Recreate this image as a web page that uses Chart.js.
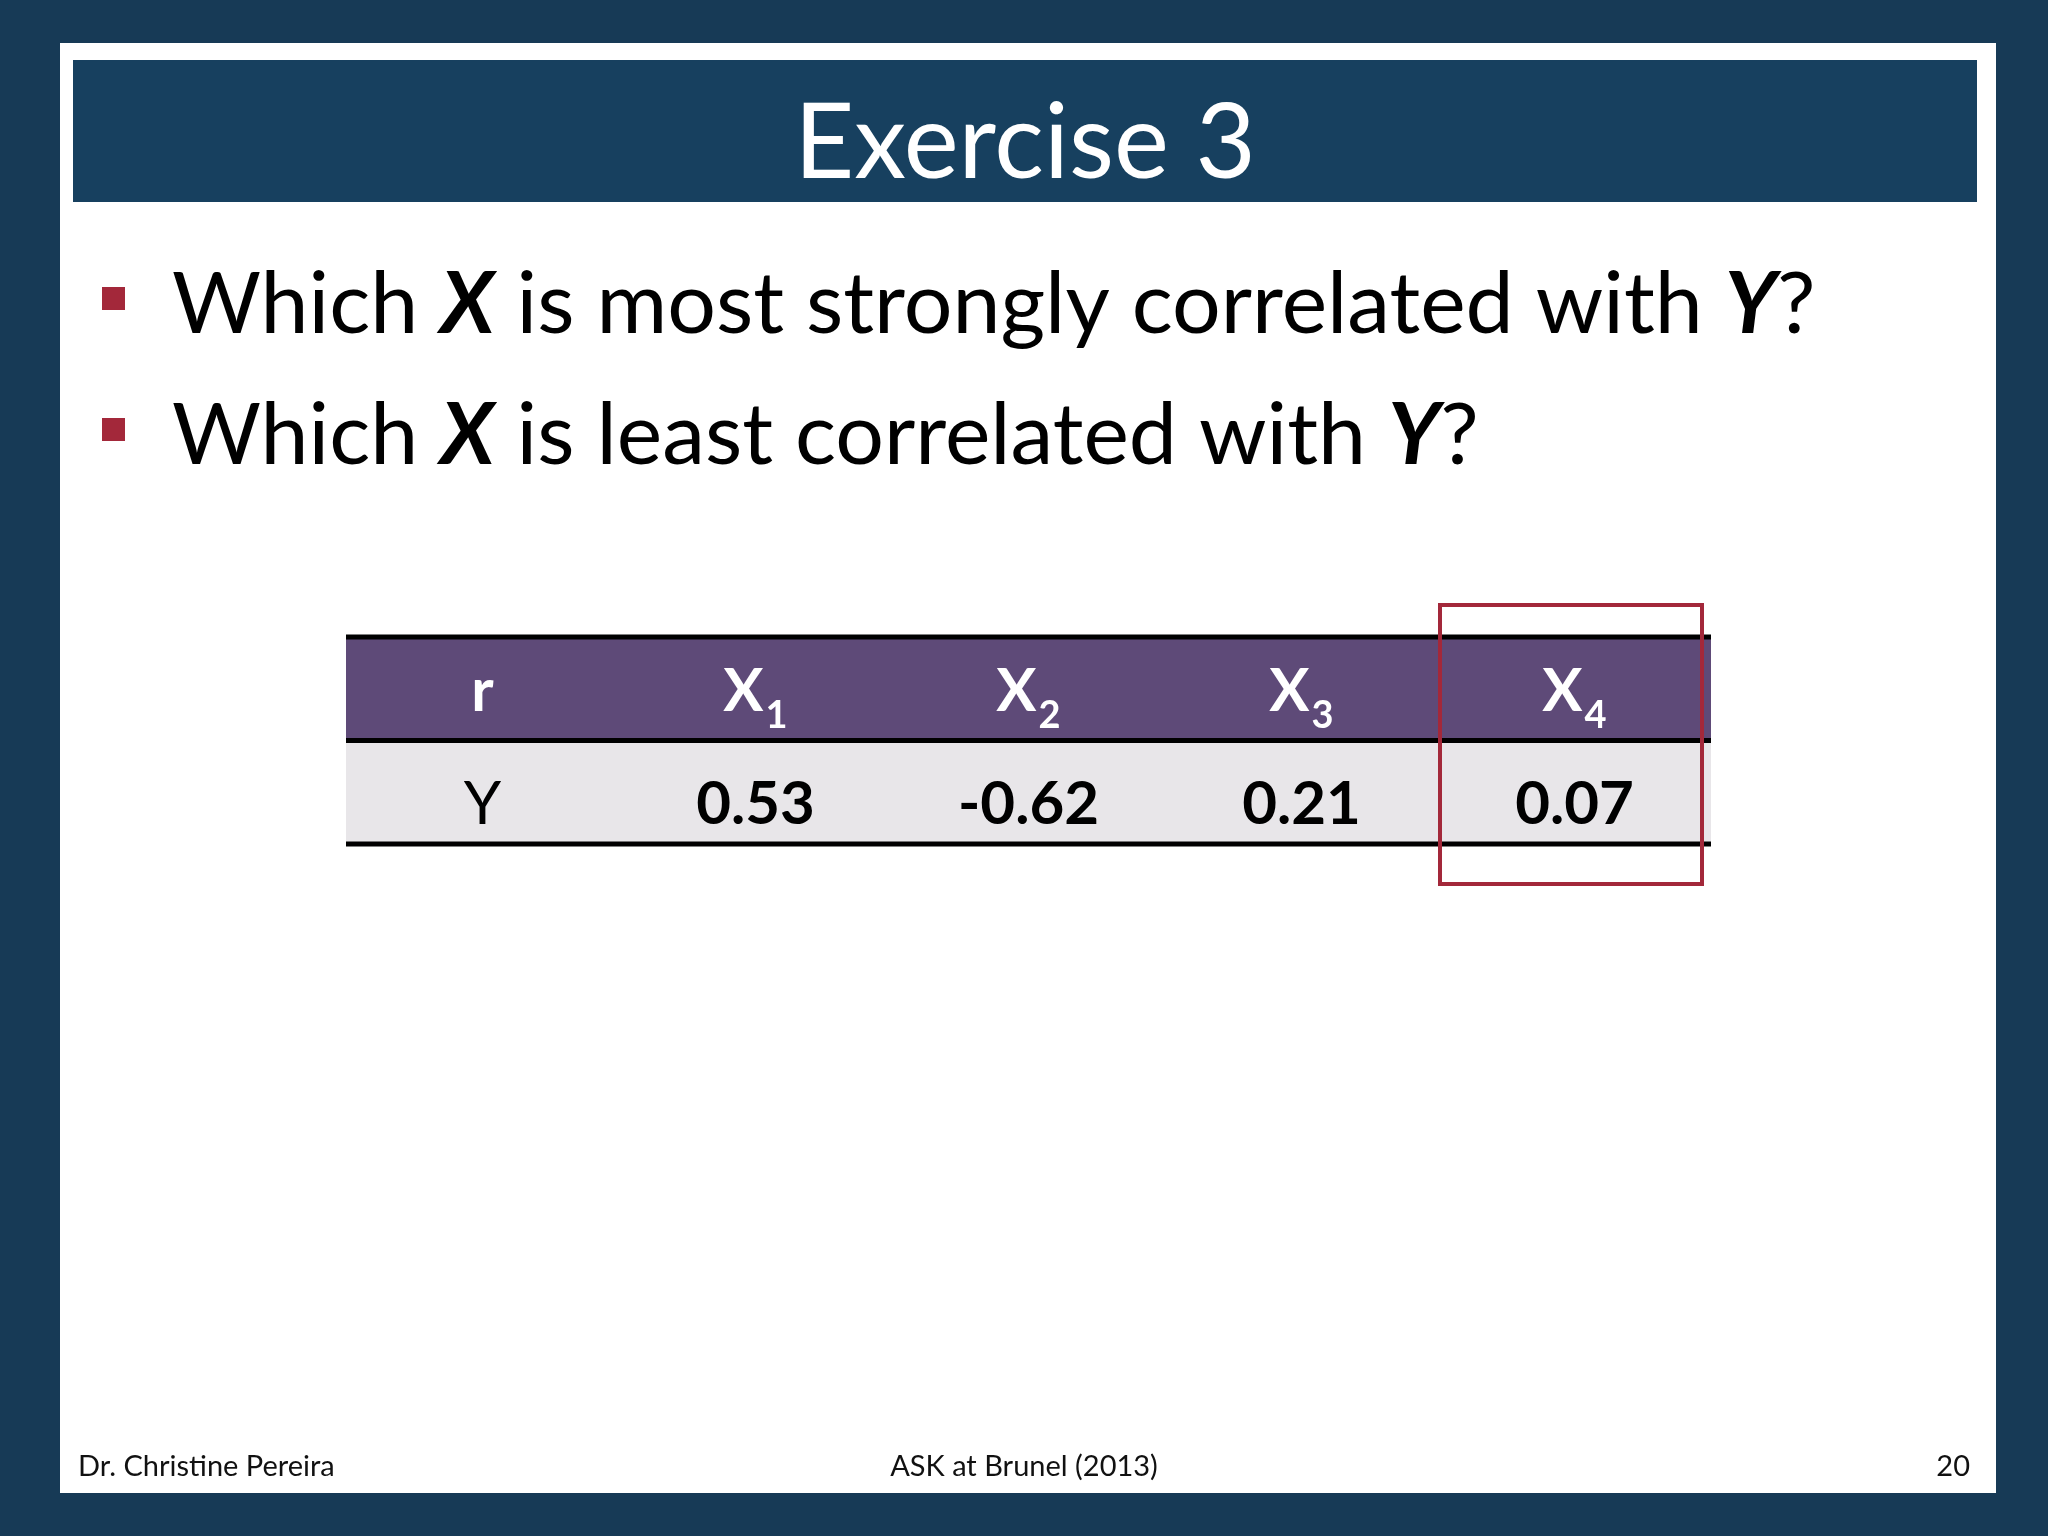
<!DOCTYPE html>
<html>
<head>
<meta charset="utf-8">
<script src="https://cdn.jsdelivr.net/npm/chart.js@4"></script>
<style>
  html, body { margin: 0; padding: 0; background: #173a56; }
  #wrap { width: 2048px; height: 1536px; }
</style>
</head>
<body>
<div id="wrap"><canvas id="slide" width="2048" height="1536"></canvas></div>
<script>
// table data
const columns = ['r', 'X1', 'X2', 'X3', 'X4'];
const headerSubs = ['', '1', '2', '3', '4'];
const rowLabel = 'Y';
const correlations = [0.53, -0.62, 0.21, 0.07];
const highlightCol = 'X4';

const title = 'Exercise 3';
const footerLeft = 'Dr. Christine Pereira';
const footerMid = 'ASK at Brunel (2013)';
const pageNo = '20';

const FONT = 'Lato, "Open Sans", sans-serif';

const slidePlugin = {
    id: 'slide',
    beforeDraw(chart) {
        const c = chart.ctx;
        c.save();
        // dark frame + white slide
        c.fillStyle = '#173a56';
        c.fillRect(0, 0, 2048, 1536);
        c.fillStyle = '#ffffff';
        c.fillRect(60, 43, 1936, 1450);
        // title bar
        c.fillStyle = '#17405f';
        c.fillRect(73, 60, 1904, 142);
        c.fillStyle = '#ffffff';
        c.font = '104px ' + FONT;
        c.textAlign = 'center';
        c.textBaseline = 'alphabetic';
        c.fillText(title, 1025, 178);

        // bullets
        const bullets = [
            [['Which ', false], ['X', true], [' is most strongly correlated with ', false], ['Y', true], ['?', false]],
            [['Which ', false], ['X', true], [' is least correlated with ', false], ['Y', true], ['?', false]]
        ];
        c.textAlign = 'left';
        bullets.forEach((parts, i) => {
            const base = 333 + i * 131;
            c.fillStyle = '#a3283a';
            c.fillRect(102, base - 46, 23, 23);
            let x = 172;
            c.fillStyle = '#000000';
            parts.forEach(([txt, em]) => {
                c.font = (em ? 'italic bold ' : '') + '86px ' + FONT;
                c.fillText(txt, x, base);
                x += c.measureText(txt).width;
            });
        });

        // footer
        c.font = '29px ' + FONT;
        c.fillStyle = '#111111';
        c.fillText(footerLeft, 78, 1476);
        c.textAlign = 'center';
        c.fillText(footerMid, 1024, 1476);
        c.textAlign = 'right';
        c.fillText(pageNo, 1970, 1476);
        c.restore();
    },
    afterDraw(chart) {
        const c = chart.ctx;
        const xs = chart.scales.x;
        const ys = chart.scales.y;
        const area = chart.chartArea;
        const colW = xs.getPixelForValue(1) - xs.getPixelForValue(0);
        const yTop = ys.getPixelForValue(2);
        const yMid = ys.getPixelForValue(1);
        const yBot = ys.getPixelForValue(0);
        c.save();
        // rows
        c.fillStyle = '#5e4a78';
        c.fillRect(area.left, yTop, area.right - area.left, yMid - yTop);
        c.fillStyle = '#e8e6e9';
        c.fillRect(area.left, yMid, area.right - area.left, yBot - yMid);
        c.fillStyle = '#000000';
        [yTop, yMid, yBot].forEach(y => c.fillRect(area.left, y - 2.5, area.right - area.left, 5));

        // header
        c.textBaseline = 'alphabetic';
        columns.forEach((col, i) => {
            const cx = xs.getPixelForValue(i);
            const main = col.charAt(0);
            const sub = headerSubs[i];
            c.font = 'bold 60px ' + FONT;
            const w1 = c.measureText(main).width;
            c.font = 'bold 38px ' + FONT;
            const w2 = sub ? c.measureText(sub).width + 2 : 0;
            const x0 = cx - (w1 + w2) / 2;
            c.fillStyle = '#ffffff';
            c.textAlign = 'left';
            c.font = 'bold 60px ' + FONT;
            c.fillText(main, x0, yTop + 74);
            if (sub) {
                c.font = 'bold 38px ' + FONT;
                c.fillText(sub, x0 + w1 + 2, yTop + 91);
            }
        });
        // values
        c.textAlign = 'center';
        c.fillStyle = '#000000';
        c.font = '60px ' + FONT;
        c.fillText(rowLabel, xs.getPixelForValue(0), yMid + 83);
        c.font = 'bold 60px ' + FONT;
        correlations.forEach((v, i) => {
            c.fillText(v.toFixed(2), xs.getPixelForValue(i + 1), yMid + 83);
        });

        // highlight box
        const hi = columns.indexOf(highlightCol);
        const hx = xs.getPixelForValue(hi);
        c.strokeStyle = '#a3283a';
        c.lineWidth = 4;
        c.strokeRect(hx - colW / 2 + 2, yTop - 32, colW - 11, (yBot - yTop) + 72);
        c.restore();
    }
};

new Chart(document.getElementById('slide'), {
    type: 'bar',
    data: {
        labels: columns,
        datasets: [{ data: [], backgroundColor: 'rgba(0,0,0,0)' }]
    },
    options: {
        responsive: false,
        animation: false,
        devicePixelRatio: 1,
        layout: { padding: { left: 346, right: 337, top: 637, bottom: 692 } },
        plugins: { legend: { display: false }, tooltip: { enabled: false } },
        scales: {
            x: { type: 'category', display: false, offset: true },
            y: { type: 'linear', display: false, min: 0, max: 2 }
        }
    },
    plugins: [slidePlugin]
});
</script>
</body>
</html>
